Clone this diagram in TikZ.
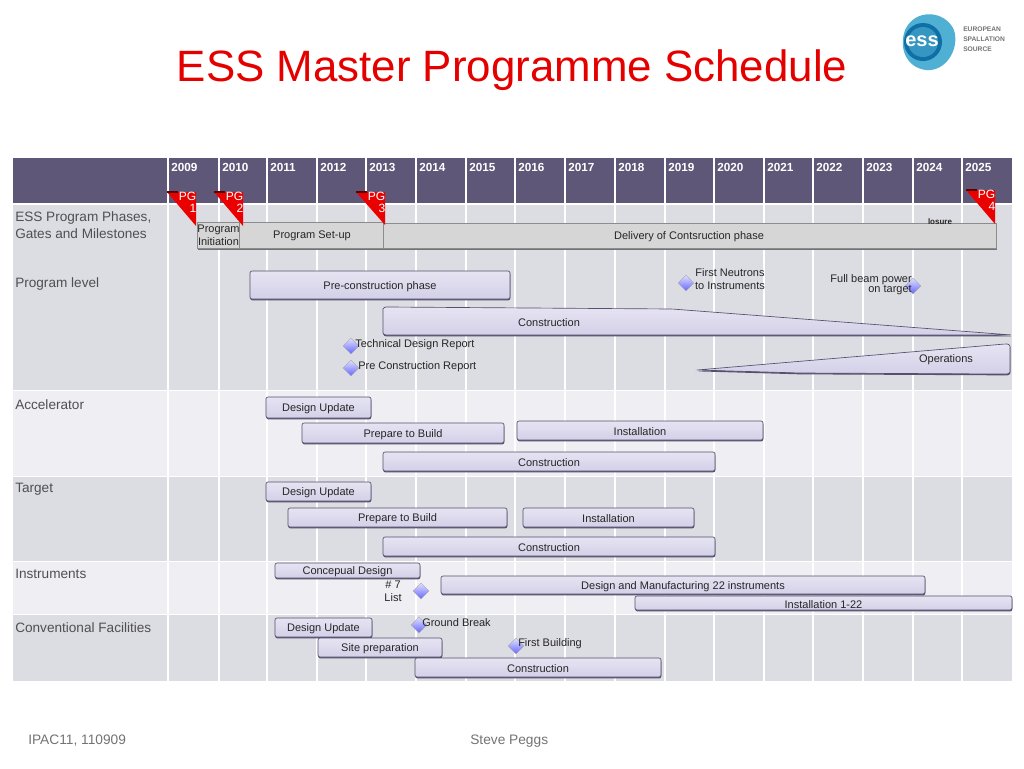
\documentclass[tikz,border=0pt]{standalone}
\usepackage{fontspec}
\setmainfont{Liberation Sans}
\usetikzlibrary{shapes.geometric,shadows}
\definecolor{headband}{HTML}{5F5777}
\definecolor{darkband}{HTML}{DCDCE3}
\definecolor{lightband}{HTML}{EEEEF3}
\definecolor{barline}{HTML}{55506C}
\definecolor{bartop}{HTML}{E6E4F2}
\definecolor{barmid}{HTML}{F1F0F9}
\definecolor{barlow}{HTML}{D3D0E8}
\definecolor{labelgrey}{HTML}{505050}
\definecolor{logoblue}{HTML}{4FB0D4}
\definecolor{logodark}{HTML}{0F6FA6}
\begin{document}
\begin{tikzpicture}[
      x=0.75pt,y=-0.75pt,
      every node/.style={inner sep=0pt,yshift=-1pt,font=\fontsize{8.25}{9.6}\selectfont,text=black!85},
      bar/.style={draw=barline,line width=0.5pt,rounded corners=1.5pt,top color=bartop,
                  middle color=barmid,bottom color=barlow,
                  drop shadow={shadow xshift=0.2pt,shadow yshift=-1pt,fill=barline,opacity=1}},
      greybar/.style={draw=black!45,line width=0.5pt,fill=black!16,
                  drop shadow={shadow xshift=1pt,shadow yshift=-1.2pt,fill=black!55,opacity=1}},
      msdia/.style={diamond,yshift=1pt,minimum size=12pt,draw=black!35,line width=0.3pt,
                  top color=blue!12!white,bottom color=blue!60!white},
      rowlabel/.style={anchor=west,font=\fontsize{10.2}{12.8}\selectfont,text=labelgrey,align=left},
      foot/.style={anchor=west,font=\fontsize{10.3}{12}\selectfont,text=black!55},
      year/.style={anchor=west,font=\bfseries\fontsize{8.8}{10}\selectfont,text=white},
      pgtext/.style={anchor=north east,yshift=1pt,align=right,font=\fontsize{9}{9}\selectfont,text=white}
    ]
    \useasboundingbox (0,0) rectangle (1024,768);

    % title and footer
    \node[font=\fontsize{32.9}{36}\selectfont,text=red!90!black] (title) at (512,68.5) {ESS Master Programme Schedule};
    \node[foot] (event) at (28,739) {IPAC11, 110909};
    \node[foot] (speaker) at (470,740) {Steve Peggs};

    % logo
    \fill[logoblue] (905,30) .. controls (915,8) and (945,10) .. (954,30)
      .. controls (960,50) and (945,72) .. (926,70) .. controls (908,68) and (898,50) .. (905,30) -- cycle;
    \fill[logodark] (923,42) circle (19);
    \fill[logoblue!60!logodark] (923,42) circle (15);
    \node[font=\bfseries\fontsize{15}{15}\selectfont,text=white] (esslogo) at (922,40) {ess};
    \node[anchor=west,align=left,font=\bfseries\fontsize{5}{7.6}\selectfont,text=black!55] (essname) at (963,38)
      {EUROPEAN\\SPALLATION\\SOURCE};

    % bands
    \fill[headband] (13,158) rectangle (1012,203);
    \fill[darkband] (13,205) rectangle (1012,390);
    \fill[lightband] (13,391) rectangle (1012,476);
    \fill[darkband] (13,477) rectangle (1012,561);
    \fill[lightband] (13,562) rectangle (1012,614);
    \fill[darkband] (13,615) rectangle (1012,681);

    % year columns
    \foreach \x/\yr in {168/2009,219/2010,267/2011,317/2012,366/2013,416/2014,466/2015,515/2016,
                        565/2017,615/2018,665/2019,714/2020,764/2021,813/2022,863/2023,913/2024,962/2025}{
      \draw[white,line width=0.8pt] (\x,158) -- (\x,681);
      \node[year] (y\yr) at (\x+3,166) {\yr};
    }

    % row labels
    \node[rowlabel] (phases) at (15,224) {ESS Program Phases,\\Gates and Milestones};
    \node[rowlabel] (proglevel) at (15,283) {Program level};
    \node[rowlabel] (accel) at (15,403) {Accelerator};
    \node[rowlabel] (target) at (15,488) {Target};
    \node[rowlabel] (instr) at (15,573) {Instruments};
    \node[rowlabel] (confac) at (15,626) {Conventional Facilities};

    % phases
    \draw[greybar] (197,222) rectangle (240,248);
    \draw[greybar] (239,222) rectangle (383,248);
    \draw[greybar] (383,223) rectangle (996,248);
    \node[align=center] (init) at (218.5,234) {Program\\Initiation};
    \node (setup) at (312,234) {Program Set-up};
    \node (delivery) at (689,235) {Delivery of Contsruction phase};
    \node[font=\bfseries\fontsize{6}{6}\selectfont] (closure) at (940,220) {losure};

    % gates
    \foreach \x/\ya/\yb/\n in {196/192/226/1,243/192/226/2,385/192/225/3,995/190/224/4}{
      \fill[red!92!black] (\x-29,\ya) -- (\x,\ya) -- (\x,\yb) -- cycle;
      \draw[red!35!black,line width=1pt] (\x-29,\ya) -- (\x-18,\ya);
      \node[pgtext] (pg\n) at (\x+0.5,\ya) {PG\\\n};
    }

    % wedges
    \draw[bar] (383,322) -- (383,311) .. controls (383,308) and (385,307) .. (388,307)
      -- (672,309) -- (1012,335) -- (388,335) .. controls (385,335) and (383,334) .. (383,331) -- cycle;
    \node (constr) at (549,321) {Construction};
    \draw[bar] (697,370) -- (1005,344) .. controls (1008,344) and (1010,345) .. (1010,348)
      -- (1010,370) .. controls (1010,373) and (1008,374) .. (1005,374) -- (800,373) -- cycle;
    \node (oper) at (946,358) {Operations};

    % bars
    \foreach \name/\xa/\ya/\xb/\yb/\txt in {
        preco/250/271/510/299/Pre-construction phase,
        acdes/266/397/371/418/Design Update,
        acpre/302/423/504/443/Prepare to Build,
        acins/517/421/763/440/Installation,
        accon/383/452/715/471/Construction,
        tades/266/482/371/501/Design Update,
        tapre/288/508/507/527/Prepare to Build,
        tains/523/508/694/527/Installation,
        tacon/383/537/715/556/Construction,
        incon/275/563/420/578/Concepual Design,
        indes/441/576/925/594/Design and Manufacturing  22 instruments,
        inins/635/596/1012/610/Installation 1-22,
        cfdes/275/618/372/637/Design Update,
        cfsit/318/638/442/657/Site preparation,
        cfcon/415/658/661/677/Construction}{
      \draw[bar] (\xa,\ya) rectangle (\xb,\yb);
      \node (\name) at ({(\xa+\xb)/2},{(\ya+\yb)/2}) {\txt};
    }

    % milestones
    \foreach \name/\x/\y in {mtdr/351/346,mpcr/351/368,mneu/686/283,mbeam/913/286,
                             mlist/421/591,mgb/419/625,mfb/516/646}{
      \node[msdia] (\name) at (\x,\y) {};
    }
    \node[anchor=west] (ltdr) at (355,343) {Technical Design Report};
    \node[anchor=west] (lpcr) at (358,365) {Pre Construction Report};
    \node[align=center] (lneu) at (730,278) {First Neutrons\\to Instruments};
    \node[anchor=east,align=right,font=\fontsize{8.25}{7.6}\selectfont] (lbeam) at (912,283.5) {Full beam power\\on target};
    \node[align=center] (llist) at (393,590) {\# 7\hspace{4pt}\\List};
    \node[anchor=west] (lgb) at (422,621) {Ground Break};
    \node[anchor=west] (lfb) at (518,642) {First Building};

  \end{tikzpicture}
\end{document}
